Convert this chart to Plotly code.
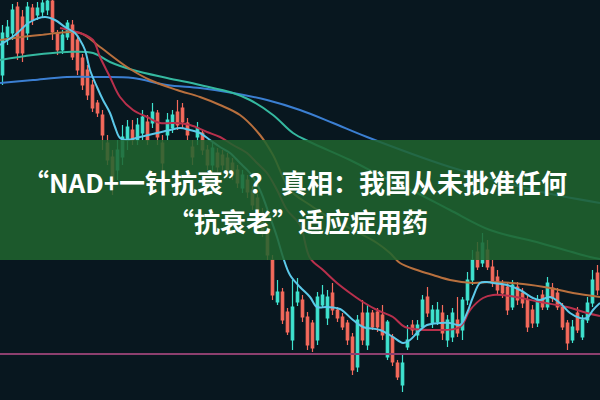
import plotly.graph_objects as go

# ---- candle data (price units, index = trading day) ----
opens = [32.5,36.3,36.7,39.3,38.3,36.7,39.2,38.5,38.8,39.0,39.9,36.7,35.0,36.3,37.5,36.0,34.2,33.0,31.5,29.7,
         28.5,25.7,24.3,23.0,24.3,26.0,27.0,26.0,26.7,27.8,27.7,28.7,25.7,26.5,27.2,28.8,29.2,27.7,25.3,26.3,
         26.7,25.0,23.5,24.7,24.5,24.2,23.7,23.0,21.2,22.0,21.0,20.2,18.7,17.0,14.0,9.8,10.8,8.8,6.0,9.8,
         10.0,8.3,7.7,6.0,9.5,8.2,10.7,9.0,8.3,7.7,6.3,3.3,8.7,5.5,8.7,8.8,8.5,4.3,6.3,3.7,
         1.5,5.3,7.5,6.5,7.3,10.3,7.7,7.8,8.7,6.0,6.3,8.0,7.0,10.0,12.0,14.8,13.7,15.0,13.3,12.3,
         11.5,11.3,9.3,11.3,10.7,10.0,9.0,7.7,10.5,9.3,11.2,10.7,9.3,7.7,6.0,8.7,6.3,8.0,9.7,12.7]
closes = [36.7,37.3,39.0,34.7,34.7,39.3,38.0,39.2,39.7,39.9,36.8,35.0,36.5,37.7,34.3,33.0,31.5,30.5,29.2,28.7,
          26.5,24.0,22.0,25.0,26.3,27.3,26.0,27.5,28.3,26.0,28.8,26.3,23.7,28.0,28.5,27.5,27.8,26.5,24.3,27.2,
          25.0,23.5,25.2,23.3,23.5,23.0,22.5,21.7,22.5,20.8,19.5,18.5,16.8,14.5,10.5,10.8,8.0,6.8,9.3,10.8,
          8.3,5.5,5.2,10.3,10.5,10.3,9.0,8.2,7.3,6.0,3.0,8.0,6.0,8.7,7.3,7.3,6.5,7.8,3.8,2.3,
          3.7,6.0,7.0,7.5,10.0,8.7,9.0,9.0,6.7,8.0,8.7,6.7,10.0,12.0,14.0,13.3,15.7,13.3,11.7,11.0,
          10.7,9.0,11.5,10.0,9.7,7.3,7.7,10.0,9.3,11.7,10.2,9.3,7.3,5.7,7.3,7.0,8.0,9.7,12.0,11.0]
highs = [37.5,38.0,39.6,39.8,39.0,39.8,39.6,39.8,40.0,40.0,40.0,37.0,37.0,38.0,38.0,36.5,34.6,33.5,32.0,30.0,
         29.0,26.5,25.0,26.0,27.5,28.0,28.0,28.2,29.0,28.5,29.7,29.0,26.5,28.7,29.0,30.0,29.7,28.2,26.0,27.8,
         27.0,25.5,25.8,25.2,25.0,24.7,24.2,23.5,23.0,22.5,21.4,20.6,19.2,17.4,14.5,12.0,11.2,9.2,12.0,12.2,
         10.5,8.8,8.0,10.8,11.5,11.0,11.7,9.3,8.7,8.0,6.7,8.5,10.0,9.5,9.0,9.2,9.5,8.0,6.6,4.0,
         4.5,7.5,8.0,8.0,10.5,11.3,9.5,9.8,9.5,8.5,9.2,10.3,10.3,12.8,15.0,15.8,16.7,16.0,14.0,13.0,
         12.0,11.8,12.0,11.8,11.2,10.5,9.5,10.5,11.0,12.3,11.7,11.2,9.7,8.0,8.0,9.3,8.5,10.3,13.0,13.5]
lows = [31.5,35.5,36.0,34.0,33.8,36.0,37.5,38.0,38.3,38.5,36.0,34.5,34.6,36.0,34.0,32.5,31.0,30.0,28.8,28.3,
        25.0,23.5,20.5,22.0,23.5,25.0,25.5,25.5,26.0,25.5,27.2,25.5,22.5,26.0,26.7,27.0,27.2,26.0,23.5,25.5,
        24.5,23.0,22.8,22.8,23.0,22.5,22.0,21.2,20.7,20.2,19.0,18.0,16.3,14.0,10.0,9.5,7.6,6.5,5.0,9.4,
        7.8,5.0,4.8,5.5,9.2,7.5,8.5,7.8,7.0,5.5,2.5,2.8,5.5,5.0,7.0,6.8,6.0,4.0,3.4,2.0,
        0.8,5.0,6.5,6.0,7.0,8.3,7.2,7.5,6.0,5.3,5.8,6.3,6.0,9.5,11.5,13.0,13.3,13.0,11.3,10.5,
        10.2,8.5,9.0,9.5,9.2,6.8,7.2,7.3,9.0,9.0,9.8,9.0,7.0,5.0,5.7,6.7,6.0,7.7,9.3,10.5]
days = list(range(len(opens)))

# ---- moving-average lines (x = day index, y = price) ----
ma_short_x = [-0.5,2.5,5.5,8.5,10.5,12.5,14.5,15.5,16.5,17.5,18.9,20.1,21.5,22.5,23.5,24.9,27.5,30.9,33.5,35.5,
              37.5,39.5,41.5,43.5,45.5,47.5,49.5,51.5,53.5,54.9,56.1,57.5,59.5,61.5,62.9,64.9,67.5,70.1,72.1,75.5,
              78.1,80.1,81.5,82.9,84.9,87.5,89.5,91.5,92.9,94.1,95.5,96.9,98.1,100.9,103.5,106.1,107.5,109.5,111.5,
              113.5,115.5,116.9,118.1,119.5]
ma_short_y = [35.5,36.5,37.8,38.3,38.0,37.3,36.7,36.0,35.0,33.0,31.3,30.0,28.7,27.3,26.2,26.0,26.3,26.7,27.0,27.2,
              27.0,26.7,26.0,25.3,24.7,23.7,22.7,21.0,18.3,16.3,14.3,12.5,11.3,10.3,9.3,9.3,9.1,8.0,7.3,7.0,
              6.3,5.7,6.0,6.7,7.5,7.7,7.7,7.5,8.7,10.3,11.7,11.8,11.7,11.5,11.0,10.2,10.0,10.3,9.7,
              8.7,8.2,8.2,9.0,9.7]
ma_red_x = [11.5,15.5,18.1,19.5,21.5,23.5,26.1,28.9,31.5,34.1,37.5,40.9,43.5,46.1,48.9,50.9,52.9,54.9,56.9,59.5,
            61.5,64.1,66.9,69.5,72.1,74.9,78.1,80.5,86.0,91.5,93.5,96.1,98.1,101.5,107.5,112.9,116.9,119.5]
ma_red_y = [37.2,36.7,36.0,34.3,32.3,30.3,29.0,28.3,27.7,27.7,27.5,26.8,26.3,25.5,24.7,23.7,22.7,21.0,19.0,17.5,
            14.2,13.0,11.7,10.7,9.8,9.0,8.3,7.3,7.0,7.3,9.0,10.2,10.5,10.4,9.8,9.3,8.7,8.4]
ma_orange_x = [-0.5,7.5,15.5,19.5,24.9,29.5,34.9,39.5,43.5,47.5,51.5,54.1,57.5,61.5,65.5,70.9,74.9,77.5,79.5,82.9,
               86.1,89.5,94.1,97.5,104.1,109.5,114.1,119.5]
ma_orange_y = [36.0,36.5,36.7,35.3,33.3,32.0,31.0,30.3,29.5,28.5,26.5,24.5,21.0,19.5,18.2,16.8,15.7,14.7,13.7,13.0,
               12.5,12.0,11.7,11.8,11.6,11.2,10.7,10.3]
ma_teal_x = [-0.5,6.1,12.9,18.1,21.5,26.1,32.9,39.5,46.1,49.5,54.1,58.1,61.5,69.5,76.1,82.9,89.5,97.5,107.5,117.5,119.5]
ma_teal_y = [34.0,34.5,34.8,34.7,33.8,33.0,32.2,31.5,30.7,30.0,28.5,26.7,25.8,24.0,22.3,20.7,19.0,17.0,15.7,14.3,14.1]
ma_blue_x = [-0.5,6.1,12.9,19.5,26.1,32.9,39.5,46.1,52.9,59.5,66.1,72.9,89.5,106.1,119.5]
ma_blue_y = [31.7,32.0,32.3,32.3,32.2,31.5,31.2,30.7,30.0,29.0,27.7,26.3,23.3,21.0,19.7]
support_level = 4.6

title_line1 = "“NAD+一针抗衰”？ 真相：我国从未批准任何"
title_line2 = "“抗衰老”适应症用药"

fig = go.Figure()

fig.add_trace(go.Scatter(x=[-0.5, 119.5], y=[support_level, support_level], mode="lines",
                         line=dict(color="#8c3f6e", width=2), hoverinfo="skip"))

fig.add_trace(go.Candlestick(
    x=days, open=opens, high=highs, low=lows, close=closes,
    increasing=dict(line=dict(color="#3fe3cf", width=1.2), fillcolor="#3fe3cf"),
    decreasing=dict(line=dict(color="#f56a5c", width=1.2), fillcolor="#f56a5c"),
    whiskerwidth=0,
))

for xs, ys, col in [(ma_blue_x, ma_blue_y, "#3b7fd2"),
                    (ma_teal_x, ma_teal_y, "#35b9a0"),
                    (ma_orange_x, ma_orange_y, "#b8703e"),
                    (ma_red_x, ma_red_y, "#b8304c"),
                    (ma_short_x, ma_short_y, "#5cc9ea")]:
    fig.add_trace(go.Scatter(x=xs, y=ys, mode="lines", line=dict(color=col, width=2, shape="spline"),
                             hoverinfo="skip"))

fig.add_shape(type="rect", xref="paper", yref="paper", x0=0, x1=1, y0=0.35, y1=0.65,
              fillcolor="rgba(32,100,46,0.86)", line=dict(width=0), layer="above")

font = dict(family="Noto Sans CJK SC", size=26, color="white")
fig.add_annotation(xref="paper", yref="paper", x=0.492, y=0.5475, text="<b>" + title_line1 + "</b>",
                   showarrow=False, font=font, xanchor="center", yanchor="middle")
fig.add_annotation(xref="paper", yref="paper", x=0.497, y=0.45, text="<b>" + title_line2 + "</b>",
                   showarrow=False, font=font, xanchor="center", yanchor="middle")

fig.update_layout(
    width=600, height=400, margin=dict(l=0, r=0, t=0, b=0),
    paper_bgcolor="#08171f", plot_bgcolor="#08171f",
    showlegend=False,
    xaxis=dict(range=[-0.5, 119.5], visible=False, rangeslider=dict(visible=False), fixedrange=True),
    yaxis=dict(range=[0, 40], visible=False, fixedrange=True),
)

fig.write_html("out.html", config={"displayModeBar": False},
               post_script="document.body.style.margin='0';document.body.style.background='#08171f';")
